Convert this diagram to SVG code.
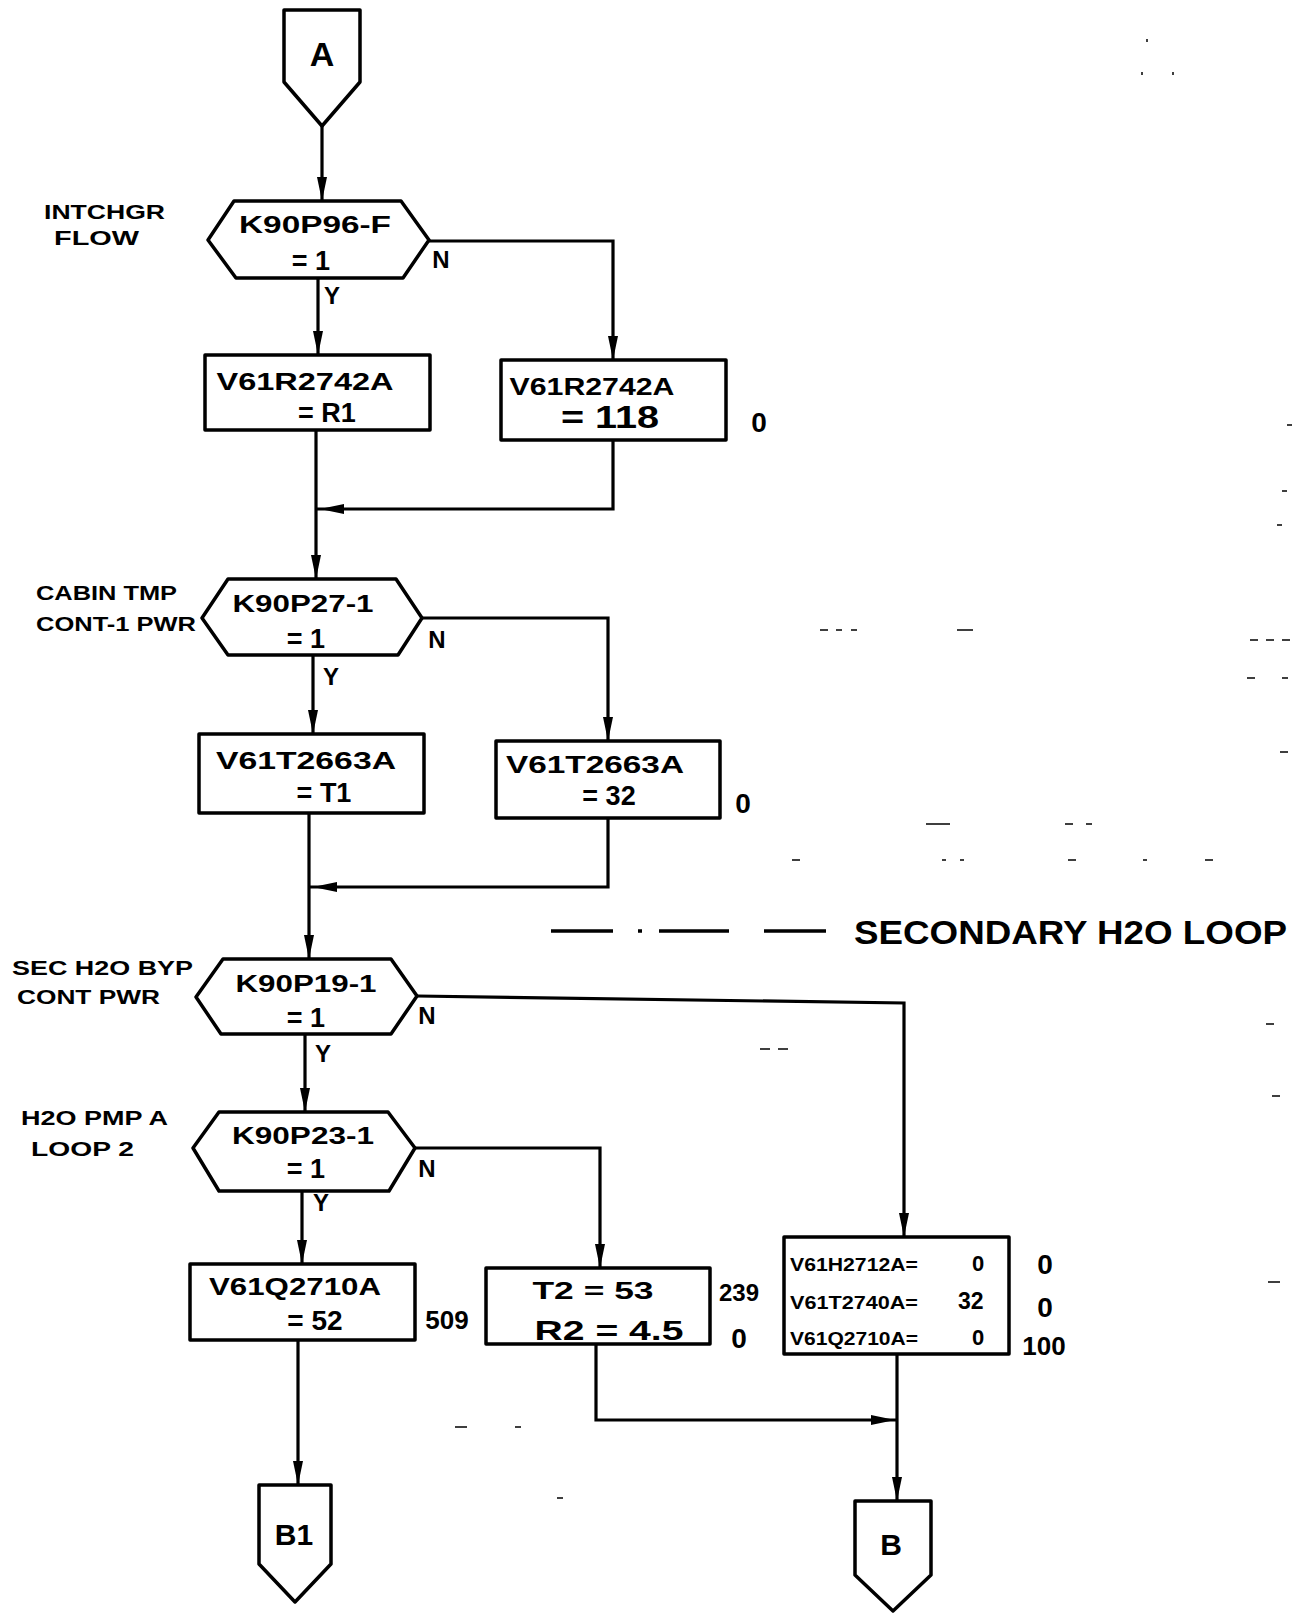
<svg xmlns="http://www.w3.org/2000/svg" xmlns:xlink="http://www.w3.org/1999/xlink" width="1304" height="1614" viewBox="0 0 1304 1614">
<style>
.shape{fill:none;stroke:#000;stroke-width:3.5;stroke-linejoin:round}
.line{fill:none;stroke:#000;stroke-width:3.2}
.t{font-family:"Liberation Sans",Arial,sans-serif;font-weight:bold;fill:#000}
.n{font-size:24px;text-anchor:middle}
.eq{font-size:27px;text-anchor:middle}
.zero{font-size:28px;text-anchor:middle}
.lbl{font-size:21px}
.yn{font-size:24px;text-anchor:middle}
.sm{font-size:19px}
.noise{stroke:#000;stroke-width:1.5;fill:none}
</style>
<defs>
<path id="ah" d="M-5,-24 L5,-24 L0,0 Z" fill="#000"/>
</defs>
<rect width="1304" height="1614" fill="#fff"/>

<g id="connectors">
<path class="line" d="M322,126 V201"/><use xlink:href="#ah" transform="translate(322,201)"/>
<path class="line" d="M318,278 V355"/><use xlink:href="#ah" transform="translate(318,355)"/>
<path class="line" d="M429,241 H613 V360"/><use xlink:href="#ah" transform="translate(613,360)"/>
<path class="line" d="M613,440 V509 H316"/><use xlink:href="#ah" transform="translate(320,509) rotate(90)"/>
<path class="line" d="M316,430 V579"/><use xlink:href="#ah" transform="translate(316,579)"/>
<path class="line" d="M313,655 V734"/><use xlink:href="#ah" transform="translate(313,734)"/>
<path class="line" d="M422,618 H608 V741"/><use xlink:href="#ah" transform="translate(608,741)"/>
<path class="line" d="M608,818 V887 H309"/><use xlink:href="#ah" transform="translate(313,887) rotate(90)"/>
<path class="line" d="M309,813 V959"/><use xlink:href="#ah" transform="translate(309,959)"/>
<path class="line" d="M417,996 L904,1003 V1237"/><use xlink:href="#ah" transform="translate(904,1237)"/>
<path class="line" d="M305,1034 V1112"/><use xlink:href="#ah" transform="translate(305,1112)"/>
<path class="line" d="M415,1148 H600 V1268"/><use xlink:href="#ah" transform="translate(600,1268)"/>
<path class="line" d="M302,1191 V1264"/><use xlink:href="#ah" transform="translate(302,1264)"/>
<path class="line" d="M298,1340 V1485"/><use xlink:href="#ah" transform="translate(298,1485)"/>
<path class="line" d="M596,1344 V1420 H897"/><use xlink:href="#ah" transform="translate(895,1420) rotate(-90)"/>
<path class="line" d="M897,1354 V1501"/><use xlink:href="#ah" transform="translate(897,1501)"/>
</g>

<g id="connector-A">
<path class="shape" d="M284,10 H360 V82 L322,126 L284,82 Z"/>
<text class="t n" x="322" y="66" style="font-size:34px">A</text>
</g>

<g id="dec-K90P96-F">
<path class="shape" d="M208,240 L234,201 H401 L429,240 L403,278 H236 Z"/>
<text class="t n" x="315" y="233" textLength="152" lengthAdjust="spacingAndGlyphs">K90P96-F</text>
<text class="t eq" x="311" y="270">= 1</text>
<text class="t lbl" x="44" y="219" textLength="121" lengthAdjust="spacingAndGlyphs">INTCHGR</text>
<text class="t lbl" x="54" y="245" textLength="85" lengthAdjust="spacingAndGlyphs">FLOW</text>
<text class="t yn" x="332" y="304">Y</text>
<text class="t yn" x="441" y="268">N</text>
</g>

<g id="box-R1">
<rect class="shape" x="205" y="355" width="225" height="75"/>
<text class="t n" x="305" y="390" textLength="177" lengthAdjust="spacingAndGlyphs">V61R2742A</text>
<text class="t eq" x="327" y="422">= R1</text>
</g>

<g id="box-118">
<rect class="shape" x="501" y="360" width="225" height="80"/>
<text class="t n" x="592" y="395" textLength="165" lengthAdjust="spacingAndGlyphs">V61R2742A</text>
<text class="t n" x="610" y="428" style="font-size:32px" textLength="98" lengthAdjust="spacingAndGlyphs">= 118</text>
<text class="t zero" x="759" y="432">0</text>
</g>

<g id="dec-K90P27-1">
<path class="shape" d="M202,618 L228,579 H396 L422,618 L398,655 H228 Z"/>
<text class="t n" x="303" y="612" textLength="141" lengthAdjust="spacingAndGlyphs">K90P27-1</text>
<text class="t eq" x="306" y="648">= 1</text>
<text class="t lbl" x="36" y="600" textLength="141" lengthAdjust="spacingAndGlyphs">CABIN TMP</text>
<text class="t lbl" x="36" y="631" textLength="160" lengthAdjust="spacingAndGlyphs">CONT-1 PWR</text>
<text class="t yn" x="331" y="685">Y</text>
<text class="t yn" x="437" y="648">N</text>
</g>

<g id="box-T1">
<rect class="shape" x="199" y="734" width="225" height="79"/>
<text class="t n" x="306" y="769" textLength="180" lengthAdjust="spacingAndGlyphs">V61T2663A</text>
<text class="t eq" x="324" y="802">= T1</text>
</g>

<g id="box-32">
<rect class="shape" x="496" y="741" width="224" height="77"/>
<text class="t n" x="595" y="773" textLength="178" lengthAdjust="spacingAndGlyphs">V61T2663A</text>
<text class="t eq" x="609" y="805">= 32</text>
<text class="t zero" x="743" y="813">0</text>
</g>

<g id="secondary-loop">
<path class="line" d="M551,931 H613 M638,931 H642 M659,931 H729 M764,931 H826" style="stroke-width:3.5"/>
<text class="t" x="854" y="944" style="font-size:34px" textLength="433" lengthAdjust="spacingAndGlyphs">SECONDARY H2O LOOP</text>
</g>

<g id="dec-K90P19-1">
<path class="shape" d="M196,997 L223,959 H391 L417,996 L391,1034 H221 Z"/>
<text class="t n" x="306" y="992" textLength="141" lengthAdjust="spacingAndGlyphs">K90P19-1</text>
<text class="t eq" x="306" y="1027">= 1</text>
<text class="t lbl" x="12" y="975" textLength="181" lengthAdjust="spacingAndGlyphs">SEC H2O BYP</text>
<text class="t lbl" x="17" y="1004" textLength="143" lengthAdjust="spacingAndGlyphs">CONT PWR</text>
<text class="t yn" x="323" y="1062">Y</text>
<text class="t yn" x="427" y="1024">N</text>
</g>

<g id="dec-K90P23-1">
<path class="shape" d="M193,1148 L219,1112 H388 L415,1148 L389,1191 H219 Z"/>
<text class="t n" x="303" y="1144" textLength="142" lengthAdjust="spacingAndGlyphs">K90P23-1</text>
<text class="t eq" x="306" y="1178">= 1</text>
<text class="t lbl" x="21" y="1125" textLength="147" lengthAdjust="spacingAndGlyphs">H2O PMP A</text>
<text class="t lbl" x="31" y="1156" textLength="103" lengthAdjust="spacingAndGlyphs">LOOP 2</text>
<text class="t yn" x="321" y="1211">Y</text>
<text class="t yn" x="427" y="1177">N</text>
</g>

<g id="box-52">
<rect class="shape" x="190" y="1264" width="225" height="76"/>
<text class="t n" x="295" y="1295" textLength="172" lengthAdjust="spacingAndGlyphs">V61Q2710A</text>
<text class="t n" x="315" y="1330" style="font-size:28px">= 52</text>
<text class="t n" x="447" y="1329" style="font-size:26px">509</text>
</g>

<g id="box-T2R2">
<rect class="shape" x="486" y="1268" width="224" height="76"/>
<text class="t n" x="593" y="1299" textLength="121" lengthAdjust="spacingAndGlyphs">T2 = 53</text>
<text class="t n" x="609" y="1340" style="font-size:28px" textLength="149" lengthAdjust="spacingAndGlyphs">R2 = 4.5</text>
<text class="t n" x="739" y="1301">239</text>
<text class="t zero" x="739" y="1348">0</text>
</g>

<g id="box-sec">
<rect class="shape" x="784" y="1237" width="225" height="117"/>
<text class="t sm" x="790" y="1271" textLength="128" lengthAdjust="spacingAndGlyphs">V61H2712A=</text>
<text class="t sm" x="972" y="1271" style="font-size:22px">0</text>
<text class="t sm" x="790" y="1309" textLength="128" lengthAdjust="spacingAndGlyphs">V61T2740A=</text>
<text class="t sm" x="958" y="1309" style="font-size:23px">32</text>
<text class="t sm" x="790" y="1345" textLength="128" lengthAdjust="spacingAndGlyphs">V61Q2710A=</text>
<text class="t sm" x="972" y="1345" style="font-size:22px">0</text>
<text class="t zero" x="1045" y="1274">0</text>
<text class="t zero" x="1045" y="1317">0</text>
<text class="t n" x="1044" y="1355" style="font-size:26px">100</text>
</g>

<g id="connector-B1">
<path class="shape" d="M259,1485 H331 V1564 L295,1602 L259,1564 Z"/>
<text class="t n" x="294" y="1545" style="font-size:30px">B1</text>
</g>

<g id="connector-B">
<path class="shape" d="M855,1501 H931 V1575 L893,1611 L855,1575 Z"/>
<text class="t n" x="891" y="1555" style="font-size:30px">B</text>
</g>

<g id="scan-marks" class="noise">
<path d="M1147,39 v3 M1142,72 v3 M1173,72 v3 M1287,425 h5 M1282,491 h5 M1277,525 h5 M820,630 h8 M836,630 h6 M851,630 h6 M957,630 h16 M1250,640 h8 M1266,640 h8 M1282,640 h8 M1247,678 h8 M1282,678 h6 M1280,752 h8 M926,824 h24 M1065,824 h8 M1086,824 h6 M792,860 h8 M942,860 h4 M960,860 h4 M1068,860 h8 M1143,860 h4 M1205,860 h8 M760,1049 h10 M778,1049 h10 M1266,1024 h8 M1272,1096 h8 M1268,1282 h12 M455,1427 h12 M515,1427 h6 M557,1498 h6"/>
</g>
</svg>
